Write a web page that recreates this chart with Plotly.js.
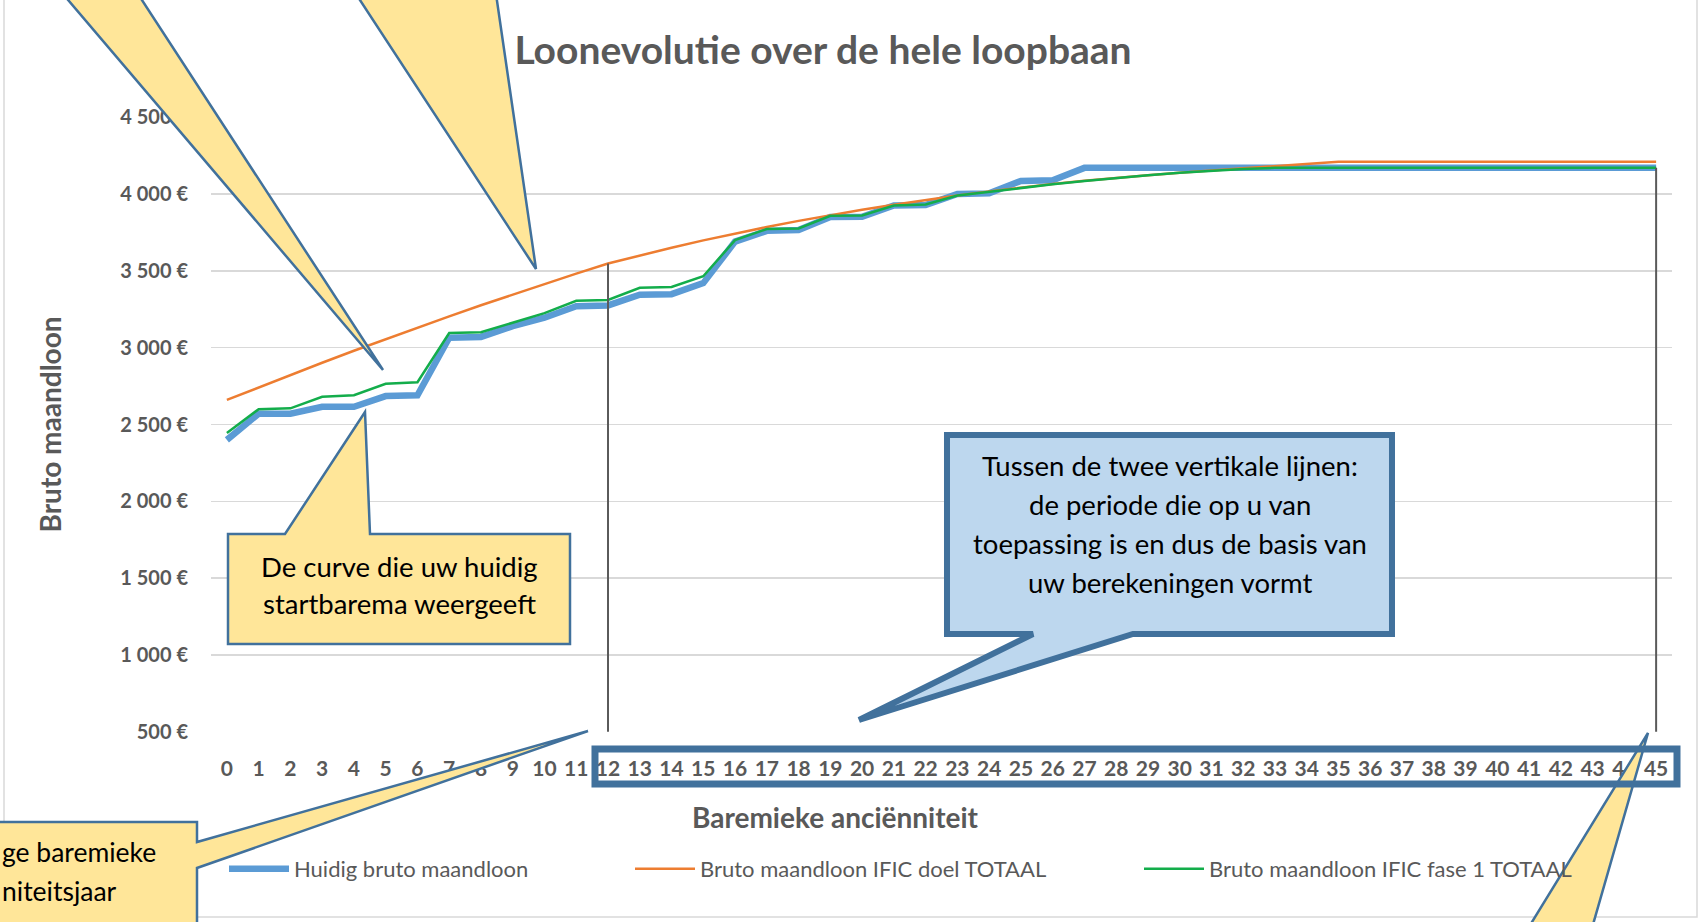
<!DOCTYPE html>
<html><head><meta charset="utf-8">
<script src="https://cdn.plot.ly/plotly-3.0.1.min.js"></script>
<style>html,body{margin:0;padding:0;background:#fff;}#chart{width:1708px;height:922px;}</style>
</head><body><div id="chart"></div>
<script>
// ---- data ----
const categories = [0,1,2,3,4,5,6,7,8,9,10,11,12,13,14,15,16,17,18,19,20,21,22,23,24,25,26,27,28,29,30,31,32,33,34,35,36,37,38,39,40,41,42,43,44,45];
const tickLabels = ["0","1","2","3","4","5","6","7","8","9","10","11","12","13","14","15","16","17","18","19","20","21","22","23","24","25","26","27","28","29","30","31","32","33","34","35","36","37","38","39","40","41","42","43","44","45"];
const huidigBruto = [2400,2570,2570,2615,2615,2685,2690,3065,3070,3140,3195,3270,3275,3345,3348,3420,3690,3760,3765,3850,3852,3925,3928,4000,4004,4085,4090,4170,4170,4170,4170,4170,4170,4170,4170,4170,4170,4170,4170,4170,4170,4170,4170,4170,4170,4170];
const ificDoel = [2660,2742,2823,2902,2980,3056,3131,3204,3276,3346,3415,3482,3548,3600,3650,3698,3743,3785,3825,3862,3897,3930,3961,3990,4017,4042,4065,4086,4105,4122,4138,4152,4165,4180,4195,4210,4210,4210,4210,4210,4210,4210,4210,4210,4210,4210];
const ificFase1 = [2445,2600,2605,2680,2690,2765,2775,3095,3100,3165,3225,3305,3310,3390,3395,3465,3700,3772,3776,3858,3860,3925,3932,3990,4015,4040,4063,4085,4105,4122,4138,4152,4163,4170,4170,4170,4170,4170,4170,4170,4170,4170,4170,4170,4170,4170];
const seriesNames = ["Huidig bruto maandloon","Bruto maandloon IFIC doel TOTAAL","Bruto maandloon IFIC fase 1 TOTAAL"];
const yTickVals = [500,1000,1500,2000,2500,3000,3500,4000,4500];
const yTickLabels = ["500 €","1 000 €","1 500 €","2 000 €","2 500 €","3 000 €","3 500 €","4 000 €","4 500 €"];
const periodStart = 12;
const periodEnd = 45;

// ---- layout helpers (pixel -> paper) ----
const PL = 211, PR = 1672, PT = 117, PB = 732;
const fx = px => (px - PL) / (PR - PL);
const fy = py => (PB - py) / (PB - PT);
const pathOf = (pts, close) => pts.map((p, i) => (i ? 'L' : 'M') + fx(p[0]).toFixed(5) + ',' + fy(p[1]).toFixed(5)).join(' ') + (close ? ' Z' : '');

const FONT = 'Lato, "Open Sans", sans-serif';
const GREY = '#595959';
const YEL = '#FFE699', OUT = '#41719C', LBLUE = '#BDD7EE';

const traces = [
  {x: categories, y: huidigBruto, name: seriesNames[0], type: 'scatter', mode: 'lines',
   line: {color: '#5B9BD5', width: 6.5}, legend: 'legend'},
  {x: categories, y: ificDoel, name: seriesNames[1], type: 'scatter', mode: 'lines',
   line: {color: '#ED7D31', width: 2.5}, legend: 'legend2'},
  {x: categories, y: ificFase1, name: seriesNames[2], type: 'scatter', mode: 'lines',
   line: {color: '#13AD4B', width: 2.5}, legend: 'legend3'}
];

const legendCommon = {orientation: 'h', xanchor: 'left', yanchor: 'middle', y: fy(869),
  bgcolor: 'rgba(0,0,0,0)', itemwidth: 60,
  font: {family: FONT, size: 22, color: GREY}};

const shapes = [
  // chart border
  {type: 'path', xref: 'paper', yref: 'paper', path: pathOf([[4,-10],[4,917],[1697,917],[1697,-10]], false),
   line: {color: '#D9D9D9', width: 1.5}, layer: 'above'},
  // period lines
  {type: 'line', xref: 'x', yref: 'y', x0: periodStart, x1: periodStart, y0: yTickVals[0], y1: ificDoel[categories.indexOf(periodStart)],
   line: {color: '#5A5A5A', width: 2}, layer: 'above'},
  {type: 'line', xref: 'x', yref: 'y', x0: periodEnd, x1: periodEnd, y0: yTickVals[0], y1: huidigBruto[categories.indexOf(periodEnd)],
   line: {color: '#5A5A5A', width: 2}, layer: 'above'},
  // top-left wedges
  {type: 'path', xref: 'paper', yref: 'paper', path: pathOf([[63,-6],[138,-6],[383,370]], true),
   fillcolor: YEL, line: {color: OUT, width: 2.5}, layer: 'above'},
  {type: 'path', xref: 'paper', yref: 'paper', path: pathOf([[356,-6],[496,-6],[536,269]], true),
   fillcolor: YEL, line: {color: OUT, width: 2.5}, layer: 'above'},
  // callout: curve
  {type: 'path', xref: 'paper', yref: 'paper', path: pathOf([[228,534],[285,534],[365,412],[370,534],[570,534],[570,644],[228,644]], true),
   fillcolor: YEL, line: {color: OUT, width: 2.5}, layer: 'above'},
  // bottom-left callout
  {type: 'path', xref: 'paper', yref: 'paper', path: pathOf([[-10,822],[197,822],[197,842],[588,731],[197,868],[197,935],[-10,935]], true),
   fillcolor: YEL, line: {color: OUT, width: 2.5}, layer: 'above'},
  // blue callout
  {type: 'path', xref: 'paper', yref: 'paper', path: pathOf([[947,435],[1392,435],[1392,634],[1133,634],[859,720],[1033,634],[947,634]], true),
   fillcolor: LBLUE, line: {color: OUT, width: 6}, layer: 'above'},
  // bottom-right wedge
  {type: 'path', xref: 'paper', yref: 'paper', path: pathOf([[1648,733],[1590,935],[1524,935]], true),
   fillcolor: YEL, line: {color: OUT, width: 2.5}, layer: 'above'},
  // label frame
  {type: 'path', xref: 'paper', yref: 'paper', path: pathOf([[595,749],[1677,749],[1677,784],[595,784]], true),
   fillcolor: 'rgba(0,0,0,0)', line: {color: OUT, width: 7}, layer: 'above'}
];

const txt = (text, px, py, anchor, size, color, weight) => ({
  text: text, xref: 'paper', yref: 'paper', x: fx(px), y: fy(py), xanchor: anchor || 'center', yanchor: 'middle',
  showarrow: false, font: {family: FONT, size: size || 27.5, color: color || '#000', weight: weight || 'normal'}
});

const annotations = [
  txt('Baremieke anciënniteit', 835, 817, 'center', 28, GREY, 'bold'),
  txt('De curve die uw huidig', 399, 566),
  txt('startbarema weergeeft', 399, 603),
  txt('Tussen de twee vertikale lijnen:', 1170, 465),
  txt('de periode die op u van', 1170, 504),
  txt('toepassing is en dus de basis van', 1170, 543),
  txt('uw berekeningen vormt', 1170, 582),
  txt('ge baremieke', 0, 852, 'left', 26.5),
  txt('niteitsjaar', 0, 891, 'left', 26.5)
];

const layout = {
  width: 1708, height: 922,
  margin: {l: PL, r: 1708 - PR, t: PT, b: 922 - PB, pad: 0},
  paper_bgcolor: '#ffffff', plot_bgcolor: '#ffffff',
  font: {family: FONT, color: GREY},
  title: {text: 'Loonevolutie over de hele loopbaan', x: 823 / 1708, xref: 'container', xanchor: 'center',
          y: 1 - 50 / 922, yref: 'container', yanchor: 'middle',
          font: {family: FONT, size: 39, weight: 'bold', color: GREY}},
  xaxis: {range: [-0.5, 45.5], tickmode: 'array', tickvals: categories, ticktext: tickLabels,
          showgrid: false, zeroline: false, showline: false, ticks: '', ticklabelstandoff: 22,
          tickfont: {family: FONT, size: 21, weight: 'bold', color: GREY}, fixedrange: true},
  yaxis: {range: [499, 4501], tickmode: 'array', tickvals: yTickVals, ticktext: yTickLabels,
          showgrid: true, gridcolor: '#D9D9D9', gridwidth: 1.5, zeroline: false, showline: false, ticks: '',
          ticklabelstandoff: 22,
          tickfont: {family: FONT, size: 20, weight: 'bold', color: GREY},
          title: {text: 'Bruto maandloon', standoff: 50, font: {family: FONT, size: 28, weight: 'bold', color: GREY}},
          fixedrange: true},
  showlegend: true,
  legend: Object.assign({}, legendCommon, {x: fx(224)}),
  legend2: Object.assign({}, legendCommon, {x: fx(630)}),
  legend3: Object.assign({}, legendCommon, {x: fx(1139)}),
  shapes: shapes,
  annotations: annotations
};

Plotly.newPlot('chart', traces, layout, {displayModeBar: false, staticPlot: true});
</script>
</body></html>
